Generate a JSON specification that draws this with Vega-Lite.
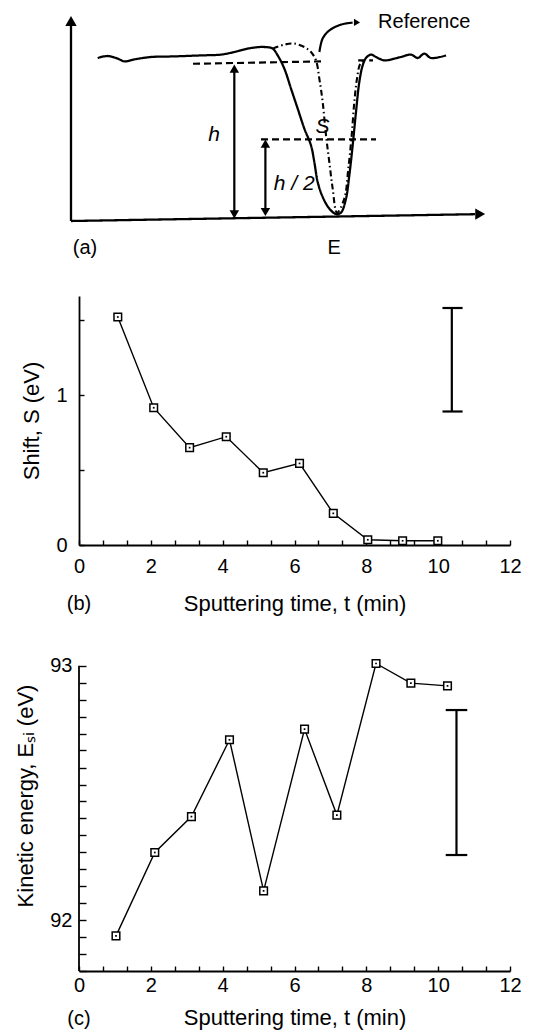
{
"$schema":"https://vega.github.io/schema/vega-lite/v6.json",
"padding":{"left":14,"top":11,"right":5,"bottom":4},
"bounds":"flush",
"spacing":75,
"config":{
 "font":"Liberation Sans",
 "view":{"stroke":null},
 "axis":{"grid":false,"domainColor":"#000","domainWidth":1.8,"tickColor":"#000","tickWidth":1.4,"labelColor":"#000","titleColor":"#000","labelFontSize":20,"titleFontSize":22,"titleFontWeight":"normal","labelFont":"Liberation Sans","titleFont":"Liberation Sans","labelOverlap":false,"labelFlush":false}
},
"datasets":{
 "a_lines":[
  {"id":"yaxis","kind":"axis","i":0,"x":0,"y":0},{"id":"yaxis","kind":"axis","i":1,"x":0,"y":98},
  {"id":"xaxis","kind":"axis","i":0,"x":0,"y":0},{"id":"xaxis","kind":"axis","i":1,"x":101,"y":3.4},
  {"id":"h","kind":"dim","i":0,"x":40.83,"y":4},{"id":"h","kind":"dim","i":1,"x":40.83,"y":75},
  {"id":"h2","kind":"dim","i":0,"x":48.6,"y":5},{"id":"h2","kind":"dim","i":1,"x":48.6,"y":37.5},
  {"id":"ptr","kind":"pointer","i":0,"x":62.1,"y":84.5},{"id":"ptr","kind":"pointer","i":1,"x":62.9,"y":91.2},{"id":"ptr","kind":"pointer","i":2,"x":64.6,"y":95.3},{"id":"ptr","kind":"pointer","i":3,"x":67.5,"y":98.2},{"id":"ptr","kind":"pointer","i":4,"x":70.4,"y":99.2},
  {"id":"base1","kind":"guide","i":0,"x":30.5,"y":78.6},{"id":"base1","kind":"guide","i":1,"x":62.5,"y":79.8},
  {"id":"base2","kind":"guide","i":0,"x":71.8,"y":80.3},{"id":"base2","kind":"guide","i":1,"x":75.5,"y":80.3},
  {"id":"half","kind":"guide","i":0,"x":47.5,"y":40.8},{"id":"half","kind":"guide","i":1,"x":76.25,"y":40.8},
  {"id":"spec","kind":"measured","i":0,"x":6.67,"y":81.5},
  {"id":"spec","kind":"measured","i":1,"x":9.17,"y":82.5},
  {"id":"spec","kind":"measured","i":2,"x":11.67,"y":81.2},
  {"id":"spec","kind":"measured","i":3,"x":13.33,"y":79.8},
  {"id":"spec","kind":"measured","i":4,"x":15.83,"y":80.8},
  {"id":"spec","kind":"measured","i":5,"x":20,"y":82},
  {"id":"spec","kind":"measured","i":6,"x":25.83,"y":82.3},
  {"id":"spec","kind":"measured","i":7,"x":32.5,"y":82.8},
  {"id":"spec","kind":"measured","i":8,"x":37.5,"y":83.2},
  {"id":"spec","kind":"measured","i":9,"x":40.83,"y":84.5},
  {"id":"spec","kind":"measured","i":10,"x":45,"y":86.5},
  {"id":"spec","kind":"measured","i":11,"x":48.33,"y":87},
  {"id":"spec","kind":"measured","i":12,"x":50.42,"y":86.2},
  {"id":"spec","kind":"measured","i":13,"x":51.67,"y":82.8},
  {"id":"spec","kind":"measured","i":14,"x":53.33,"y":76.2},
  {"id":"spec","kind":"measured","i":15,"x":55,"y":66.2},
  {"id":"spec","kind":"measured","i":16,"x":56.67,"y":56.2},
  {"id":"spec","kind":"measured","i":17,"x":58.33,"y":46.2},
  {"id":"spec","kind":"measured","i":18,"x":60,"y":37.8},
  {"id":"spec","kind":"measured","i":19,"x":60.83,"y":29.5},
  {"id":"spec","kind":"measured","i":20,"x":61.67,"y":19.5},
  {"id":"spec","kind":"measured","i":21,"x":62.92,"y":12},
  {"id":"spec","kind":"measured","i":22,"x":64.58,"y":6.2},
  {"id":"spec","kind":"measured","i":23,"x":66.25,"y":3.5},
  {"id":"spec","kind":"measured","i":24,"x":67.5,"y":4.2},
  {"id":"spec","kind":"measured","i":25,"x":68.75,"y":11.2},
  {"id":"spec","kind":"measured","i":26,"x":69.58,"y":22.8},
  {"id":"spec","kind":"measured","i":27,"x":70.42,"y":37.8},
  {"id":"spec","kind":"measured","i":28,"x":71.25,"y":54.5},
  {"id":"spec","kind":"measured","i":29,"x":72.08,"y":69.5},
  {"id":"spec","kind":"measured","i":30,"x":72.92,"y":77.8},
  {"id":"spec","kind":"measured","i":31,"x":73.75,"y":81.5},
  {"id":"spec","kind":"measured","i":32,"x":75,"y":83.2},
  {"id":"spec","kind":"measured","i":33,"x":76.25,"y":82},
  {"id":"spec","kind":"measured","i":34,"x":78.33,"y":80.3},
  {"id":"spec","kind":"measured","i":35,"x":80.83,"y":81.2},
  {"id":"spec","kind":"measured","i":36,"x":82.5,"y":82},
  {"id":"spec","kind":"measured","i":37,"x":85,"y":83.2},
  {"id":"spec","kind":"measured","i":38,"x":86.67,"y":81.5},
  {"id":"spec","kind":"measured","i":39,"x":88.33,"y":83.7},
  {"id":"spec","kind":"measured","i":40,"x":90,"y":81.5},
  {"id":"spec","kind":"measured","i":41,"x":93.75,"y":82.8},
  {"id":"ref","kind":"reference","i":0,"x":50.42,"y":86.2},
  {"id":"ref","kind":"reference","i":1,"x":53.33,"y":88.2},
  {"id":"ref","kind":"reference","i":2,"x":55.83,"y":88.7},
  {"id":"ref","kind":"reference","i":3,"x":58.33,"y":87},
  {"id":"ref","kind":"reference","i":4,"x":60,"y":84.5},
  {"id":"ref","kind":"reference","i":5,"x":61.25,"y":80.3},
  {"id":"ref","kind":"reference","i":6,"x":62.08,"y":71.2},
  {"id":"ref","kind":"reference","i":7,"x":62.92,"y":59.5},
  {"id":"ref","kind":"reference","i":8,"x":63.75,"y":42.8},
  {"id":"ref","kind":"reference","i":9,"x":64.58,"y":29.5},
  {"id":"ref","kind":"reference","i":10,"x":65.42,"y":16.2},
  {"id":"ref","kind":"reference","i":11,"x":66.5,"y":4.2},
  {"id":"ref","kind":"reference","i":12,"x":68.33,"y":11.2},
  {"id":"ref","kind":"reference","i":13,"x":69.33,"y":26.2},
  {"id":"ref","kind":"reference","i":14,"x":70.17,"y":42.8},
  {"id":"ref","kind":"reference","i":15,"x":70.83,"y":59.5},
  {"id":"ref","kind":"reference","i":16,"x":71.5,"y":71.2},
  {"id":"ref","kind":"reference","i":17,"x":72.33,"y":78.7},
  {"id":"ref","kind":"reference","i":18,"x":73.33,"y":80.3}
 ],
 "a_heads":[
  {"x":0,"y":100,"dir":"up","kind":"axis"},
  {"x":102.3,"y":3.45,"dir":"right","kind":"axis"},
  {"x":40.83,"y":76.2,"dir":"up","kind":"dim"},
  {"x":40.83,"y":3.3,"dir":"down","kind":"dim"},
  {"x":48.6,"y":38.7,"dir":"up","kind":"dim"},
  {"x":48.6,"y":4.5,"dir":"down","kind":"dim"},
  {"x":71.5,"y":99.3,"dir":"right","kind":"pointer"}
 ],
 "a_text":[
  {"x":3.5,"y":-13.5,"label":"(a)","kind":"plain"},
  {"x":65.8,"y":-13.5,"label":"E","kind":"plain"},
  {"x":88.3,"y":99.5,"label":"Reference","kind":"plain"},
  {"x":35.8,"y":42.8,"label":"h","kind":"symbol"},
  {"x":55.8,"y":18.7,"label":"h / 2","kind":"symbol"},
  {"x":62.9,"y":47,"label":"S","kind":"symbol"}
 ],
 "b_pts":[{"t":1.08,"s":1.52},{"t":2.08,"s":0.915},{"t":3.08,"s":0.649},{"t":4.1,"s":0.722},{"t":5.13,"s":0.482},{"t":6.14,"s":0.544},{"t":7.08,"s":0.211},{"t":8.04,"s":0.035},{"t":9.01,"s":0.028},{"t":9.99,"s":0.028}],
 "b_err":[{"t":10.38,"lo":0.89,"hi":1.58}],
 "b_caps":[{"t":10.12,"t2":10.68,"s":1.58},{"t":10.12,"t2":10.68,"s":0.89}],
 "b_tag":[{"t":0,"s":-0.393,"label":"(b)"}],
 "c_pts":[{"t":1.03,"e":91.938},{"t":2.11,"e":92.266},{"t":3.13,"e":92.407},{"t":4.19,"e":92.709},{"t":5.14,"e":92.115},{"t":6.28,"e":92.751},{"t":7.18,"e":92.413},{"t":8.27,"e":93.009},{"t":9.24,"e":92.932},{"t":10.26,"e":92.921}],
 "c_err":[{"t":10.51,"lo":92.256,"hi":92.826}],
 "c_caps":[{"t":10.21,"t2":10.81,"e":92.826},{"t":10.21,"t2":10.81,"e":92.256}],
 "c_axis":[{"t":0,"lo":91.8,"hi":93}],
 "c_tag":[{"t":0,"e":91.61,"label":"(c)"}]
},
"vconcat":[
 {
  "width":431,"height":206,
  "layer":[
   {"data":{"name":"a_lines"},
    "mark":{"type":"line","interpolate":"catmull-rom","color":"#000"},
    "encoding":{
     "x":{"field":"x","type":"quantitative","scale":{"domain":[2,109.75],"nice":false,"zero":false},"axis":null},
     "y":{"field":"y","type":"quantitative","scale":{"domain":[0,103],"nice":false,"zero":false},"axis":null},
     "detail":{"field":"id"},
     "order":{"field":"i"},
     "strokeDash":{"field":"kind","type":"nominal","scale":{"domain":["axis","measured","dim","pointer","guide","reference"],"range":[[1,0],[1,0],[1,0],[1,0],[7,4],[6,3,1.5,3]]},"legend":null},
     "strokeWidth":{"field":"kind","type":"nominal","scale":{"domain":["axis","measured","dim","pointer","guide","reference"],"range":[2.3,2.1,1.8,1.6,1.6,1.8]},"legend":null}
    }},
   {"data":{"name":"a_heads"},
    "mark":{"type":"point","filled":true,"color":"#000","opacity":1},
    "encoding":{
     "x":{"field":"x","type":"quantitative"},
     "y":{"field":"y","type":"quantitative"},
     "shape":{"field":"dir","type":"nominal","scale":{"domain":["up","down","right"],"range":["triangle-up","triangle-down","triangle-right"]},"legend":null},
     "size":{"field":"kind","type":"nominal","scale":{"domain":["axis","dim","pointer"],"range":[130,50,80]},"legend":null}
    }},
   {"data":{"name":"a_text"},
    "transform":[{"filter":"datum.kind=='plain'"}],
    "mark":{"type":"text","fontSize":20,"align":"center","baseline":"middle","color":"#000"},
    "encoding":{"x":{"field":"x","type":"quantitative"},"y":{"field":"y","type":"quantitative"},"text":{"field":"label"}}},
   {"data":{"name":"a_text"},
    "transform":[{"filter":"datum.kind=='symbol'"}],
    "mark":{"type":"text","fontSize":21,"fontStyle":"italic","align":"center","baseline":"middle","color":"#000"},
    "encoding":{"x":{"field":"x","type":"quantitative"},"y":{"field":"y","type":"quantitative"},"text":{"field":"label"}}}
  ]
 },
 {
  "width":431,"height":249,
  "layer":[
   {"data":{"name":"b_pts"},
    "mark":{"type":"line","color":"#000","strokeWidth":1.4},
    "encoding":{
     "x":{"field":"t","type":"quantitative","scale":{"domain":[0,12],"nice":false,"zero":false},
      "axis":{"title":"Sputtering time, t (min)","values":[0,0.667,1.333,2,2.667,3.333,4,4.667,5.333,6,6.667,7.333,8,8.667,9.333,10,10.667,11.333,12],"tickCount":100,"labelExpr":"abs(datum.value - round(datum.value)) < 0.01 && round(datum.value) % 2 == 0 ? '' + round(datum.value) : ''","labelOverlap":false,"labelFlush":false,"tickSize":-5,"labelPadding":16,"titlePadding":17}},
     "y":{"field":"s","type":"quantitative","scale":{"domain":[0,1.66],"nice":false,"zero":false},
      "axis":{"title":"Shift, S (eV)","values":[0,0.5,1,1.5],"tickCount":100,"labelExpr":"datum.value == 0 || datum.value == 1 ? '' + round(datum.value) : ''","labelOverlap":false,"tickSize":-5,"labelPadding":17,"titlePadding":12}}
    }},
   {"data":{"name":"b_pts"},
    "mark":{"type":"point","shape":"square","size":58,"filled":true,"fill":"#fff","stroke":"#000","strokeWidth":1.5,"opacity":1},
    "encoding":{"x":{"field":"t","type":"quantitative"},"y":{"field":"s","type":"quantitative"}}},
   {"data":{"name":"b_pts"},
    "mark":{"type":"point","shape":"square","size":3,"filled":true,"color":"#000","opacity":1},
    "encoding":{"x":{"field":"t","type":"quantitative"},"y":{"field":"s","type":"quantitative"}}},
   {"data":{"name":"b_err"},
    "mark":{"type":"rule","color":"#000","strokeWidth":2.2},
    "encoding":{"x":{"field":"t","type":"quantitative"},"y":{"field":"lo","type":"quantitative"},"y2":{"field":"hi"}}},
   {"data":{"name":"b_caps"},
    "mark":{"type":"rule","color":"#000","strokeWidth":2.2},
    "encoding":{"x":{"field":"t","type":"quantitative"},"x2":{"field":"t2"},"y":{"field":"s","type":"quantitative"}}},
   {"data":{"name":"b_tag"},
    "mark":{"type":"text","fontSize":20,"align":"center","baseline":"middle","color":"#000"},
    "encoding":{"x":{"field":"t","type":"quantitative"},"y":{"field":"s","type":"quantitative"},"text":{"field":"label"}}}
  ]
 },
 {
  "width":431,"height":351,
  "layer":[
   {"data":{"name":"c_pts"},
    "mark":{"type":"line","color":"#000","strokeWidth":1.4},
    "encoding":{
     "x":{"field":"t","type":"quantitative","scale":{"domain":[0,12],"nice":false,"zero":false},
      "axis":{"title":"Sputtering time, t (min)","values":[0,0.667,1.333,2,2.667,3.333,4,4.667,5.333,6,6.667,7.333,8,8.667,9.333,10,10.667,11.333,12],"tickCount":100,"labelExpr":"abs(datum.value - round(datum.value)) < 0.01 && round(datum.value) % 2 == 0 ? '' + round(datum.value) : ''","labelOverlap":false,"labelFlush":false,"tickSize":-5,"labelPadding":9.5,"titlePadding":12}},
     "y":{"field":"e","type":"quantitative","scale":{"domain":[91.8,93.18],"nice":false,"zero":false},
      "axis":{"title":"Kinetic energy, Eₛᵢ (eV)","domain":false,"values":[91.8,91.867,91.933,92,92.067,92.133,92.2,92.267,92.333,92.4,92.467,92.533,92.6,92.667,92.733,92.8,92.867,92.933,93],"tickCount":100,"labelExpr":"abs(datum.value-92)<0.001 || abs(datum.value-93)<0.001 ? '' + round(datum.value) : ''","labelOverlap":false,"tickSize":-7,"labelPadding":14,"titlePadding":12}}
    }},
   {"data":{"name":"c_axis"},
    "mark":{"type":"rule","color":"#000","strokeWidth":1.8},
    "encoding":{"x":{"field":"t","type":"quantitative"},"y":{"field":"lo","type":"quantitative"},"y2":{"field":"hi"}}},
   {"data":{"name":"c_pts"},
    "mark":{"type":"point","shape":"square","size":58,"filled":true,"fill":"#fff","stroke":"#000","strokeWidth":1.5,"opacity":1},
    "encoding":{"x":{"field":"t","type":"quantitative"},"y":{"field":"e","type":"quantitative"}}},
   {"data":{"name":"c_pts"},
    "mark":{"type":"point","shape":"square","size":3,"filled":true,"color":"#000","opacity":1},
    "encoding":{"x":{"field":"t","type":"quantitative"},"y":{"field":"e","type":"quantitative"}}},
   {"data":{"name":"c_err"},
    "mark":{"type":"rule","color":"#000","strokeWidth":2.2},
    "encoding":{"x":{"field":"t","type":"quantitative"},"y":{"field":"lo","type":"quantitative"},"y2":{"field":"hi"}}},
   {"data":{"name":"c_caps"},
    "mark":{"type":"rule","color":"#000","strokeWidth":2.2},
    "encoding":{"x":{"field":"t","type":"quantitative"},"x2":{"field":"t2"},"y":{"field":"e","type":"quantitative"}}},
   {"data":{"name":"c_tag"},
    "mark":{"type":"text","fontSize":20,"align":"center","baseline":"middle","color":"#000"},
    "encoding":{"x":{"field":"t","type":"quantitative"},"y":{"field":"e","type":"quantitative"},"text":{"field":"label"}}}
  ]
 }
]
}
